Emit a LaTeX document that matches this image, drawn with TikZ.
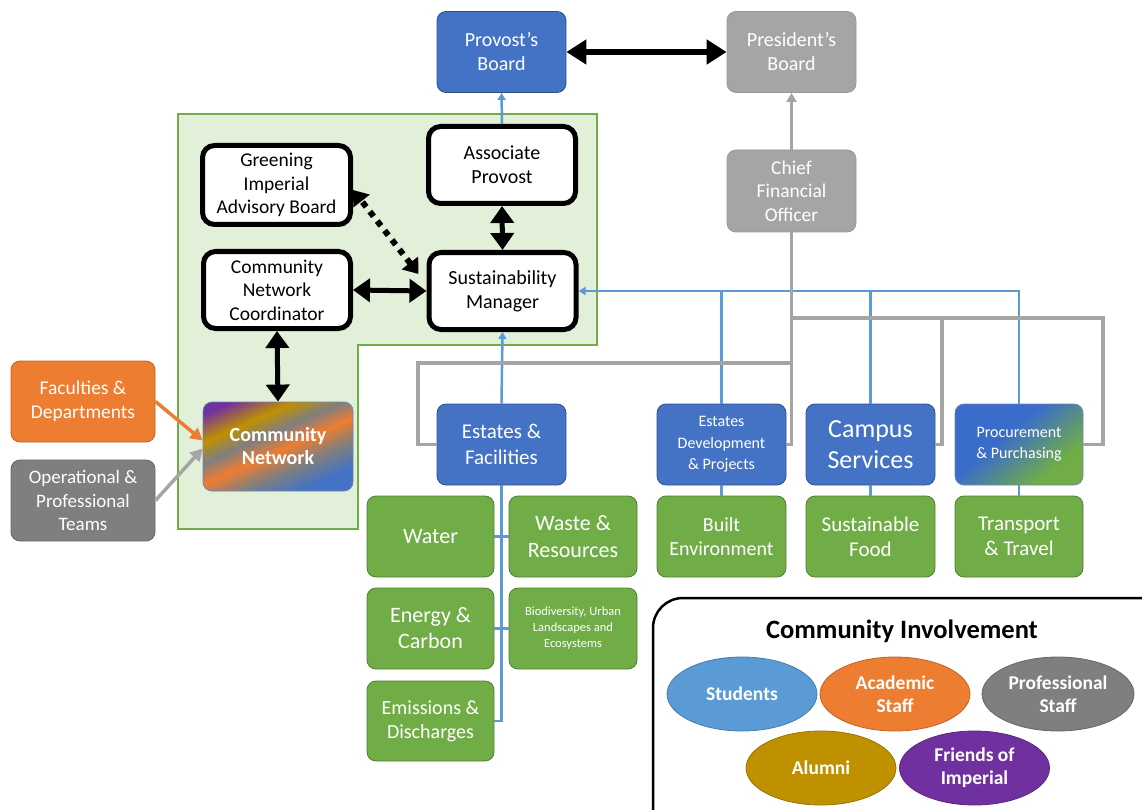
\documentclass[tikz,border=0pt]{standalone}
\usepackage{fontspec}
\setmainfont{Carlito}
\usetikzlibrary{arrows.meta,shapes.geometric}
\definecolor{cblue}{HTML}{4472C4}
\definecolor{cblueD}{HTML}{2F528F}
\definecolor{cgrayL}{HTML}{A5A5A5}
\definecolor{cgrayD}{HTML}{7F7F7F}
\definecolor{corange}{HTML}{ED7D31}
\definecolor{cgreen}{HTML}{70AD47}
\definecolor{cgreenD}{HTML}{507E32}
\definecolor{cline}{HTML}{5B9BD5}
\definecolor{cgold}{HTML}{BF9000}
\definecolor{cpurple}{HTML}{7030A0}
\definecolor{cregion}{HTML}{E2F0D9}
\definecolor{ppblue}{HTML}{3A6CCB}
\pgfdeclarehorizontalshading{cnshade}{100bp}{color(0bp)=(cpurple); color(22bp)=(cpurple); color(34bp)=(cgold); color(43bp)=(cgrayD); color(52bp)=(corange); color(62bp)=(cgrayD); color(73bp)=(cblue); color(100bp)=(cblue)}
\pgfdeclarehorizontalshading{ppshade}{100bp}{color(0bp)=(ppblue); color(42bp)=(ppblue); color(70bp)=(cgreen); color(100bp)=(cgreen)}
\tikzset{
 box/.style={rounded corners=9pt, align=center, text=white, inner sep=0pt, line width=0.8pt, minimum width=129pt, minimum height=81pt, font=\fontsize{20}{24}\selectfont},
 bluebox/.style={box, fill=cblue, draw=cblueD},
 graybox/.style={box, fill=cgrayL, draw=cgrayD!80},
 greenbox/.style={box, fill=cgreen, draw=cgreenD, minimum width=127pt},
 blackbox/.style={rounded corners=12pt, align=center, text=black, fill=white, draw=black, line width=5pt, minimum width=147pt, minimum height=77pt, inner sep=0pt, font=\fontsize{20}{24}\selectfont},
 bigarrow/.style={line width=5pt, {Triangle[length=17pt,width=23pt]}-{Triangle[length=17pt,width=23pt]}},
 blueline/.style={draw=cline, line width=2.5pt},
 bluearrow/.style={blueline, -{Triangle[length=7pt,width=8pt]}},
 grayline/.style={draw=cgrayL, line width=3.5pt},
 oval/.style={ellipse, minimum width=150pt, minimum height=74pt, inner sep=0pt, align=center, text=white, font=\bfseries\fontsize{19.5}{23}\selectfont, line width=0.8pt},
}
\begin{document}
\begin{tikzpicture}[x=1pt,y=-1pt]
\useasboundingbox (0,0) rectangle (1142,810);
\clip (0,0) rectangle (1142,810);
% green region
\fill[cregion, draw=cgreen, line width=1.2pt] (178,114) -- (597,114) -- (597,345) -- (358,345) -- (358,529) -- (178,529) -- cycle;

% top boards
\node[bluebox] (pb) at (501.5,52) {Provost’s\\Board};
\node[graybox] (prb) at (791.5,52) {President’s\\Board};
\node[graybox, font=\fontsize{19.5}{23.5}\selectfont, minimum height=82pt] (cfo) at (791.5,191) {Chief\\Financial\\Officer};

% black boxes
\node[blackbox] (ap) at (502,165) {Associate\\Provost};
\node[blackbox, minimum width=148pt, minimum height=79pt, font=\fontsize{19.5}{23.5}\selectfont] (gia) at (276.5,185) {Greening\\Imperial\\Advisory Board};
\node[blackbox, font=\fontsize{19.5}{23.5}\selectfont] (cnc) at (277,290) {Community\\Network\\Coordinator};
\node[blackbox] (sm) at (502.5,291) {Sustainability\\Manager};

% community network
\node[box, shading=cnshade, shading angle=-66, draw=cblueD!70, minimum width=150pt, minimum height=89pt, font=\bfseries\fontsize{20}{23}\selectfont] (cn) at (278,446.5) {Community\\Network};
\node[box, fill=corange, draw=corange!80!black, minimum width=144pt, font=\fontsize{19.5}{24}\selectfont] (fac) at (83,401.5) {Faculties \&\\Departments};
\node[box, fill=cgrayD, draw=cgrayD!80!black, minimum width=144pt, font=\fontsize{19}{23.5}\selectfont] (ops) at (83,500.5) {Operational \&\\Professional\\Teams};

% departments
\node[bluebox, font=\fontsize{21}{26}\selectfont] (ef) at (501.5,444.5) {Estates \&\\Facilities};
\node[bluebox, font=\fontsize{16}{21.5}\selectfont] (edp) at (721.5,444.5) {Estates\\Development\\\& Projects};
\node[bluebox, font=\fontsize{26}{31}\selectfont] (cs) at (870.5,444.5) {Campus\\Services};
\node[box, shading=ppshade, shading angle=-50, draw=cblueD!70, minimum width=128pt, font=\fontsize{16}{21}\selectfont] (pp) at (1019,444.5) {Procurement\\\& Purchasing};

% green boxes
\node[greenbox, font=\fontsize{22}{27}\selectfont] (water) at (430.5,536.5) {Water};
\node[greenbox, minimum width=128pt, font=\fontsize{22}{27}\selectfont] (waste) at (573,536.5) {Waste \&\\Resources};
\node[greenbox, font=\fontsize{22}{26}\selectfont] (energy) at (430.5,628.5) {Energy \&\\Carbon};
\node[greenbox, minimum width=128pt, font=\fontsize{12.5}{16}\selectfont] (bio) at (573,628.5) {Biodiversity, Urban\\Landscapes and\\Ecosystems};
\node[greenbox, minimum height=80pt, font=\fontsize{20}{24}\selectfont] (emis) at (430.5,721) {Emissions \&\\Discharges};
\node[greenbox, minimum width=129pt, font=\fontsize{20}{24}\selectfont] (built) at (721.5,536.5) {Built\\Environment};
\node[greenbox, minimum width=129pt, font=\fontsize{21}{25}\selectfont] (food) at (870.5,536.5) {Sustainable\\Food};
\node[greenbox, minimum width=128pt, font=\fontsize{21}{25}\selectfont] (tt) at (1019,536.5) {Transport\\\& Travel};

% community involvement
\node[draw=black, line width=2.5pt, rounded corners=30pt, minimum width=519pt, minimum height=242pt, inner sep=0pt] (ci) at (912.5,719) {};
\node[font=\bfseries\fontsize{26.5}{30}\selectfont, text=black] (cit) at (902,631) {Community Involvement};
\node[oval, fill=cline, draw=cline!80!black] (stu) at (742,694) {Students};
\node[oval, fill=corange, draw=corange!80!black] (aca) at (895,694) {Academic\\Staff};
\node[oval, fill=cgrayD, draw=cgrayD!80!black, minimum width=152pt] (pro) at (1058,694) {Professional\\Staff};
\node[oval, fill=cgold, draw=cgold!80!black] (alu) at (821,768) {Alumni};
\node[oval, fill=cpurple, draw=cpurple!80!black] (fri) at (974.5,768) {Friends of\\Imperial};

% coordinates for routing
\coordinate (g1) at (418,363);
\coordinate (g2) at (791.5,318);
\coordinate (g3) at (942,318);
\coordinate (g4) at (1103,318);

% blue connectors
\draw[bluearrow] (pp.north) |- (sm.east);
\draw[blueline] (edp.north) -- (edp.north |- sm.east);
\draw[blueline] (cs.north) -- (cs.north |- sm.east);
\draw[bluearrow] (ef.north) -- (sm.south);
\draw[bluearrow] (ap.north) -- (pb.south);
\draw[blueline] (ef.south) -- (ef.south |- emis.east) -- (emis.east);
\draw[blueline] (water.east) -- (waste.west);
\draw[blueline] (energy.east) -- (bio.west);
\draw[blueline] (edp.south) -- (built.north);
\draw[blueline] (cs.south) -- (food.north);
\draw[blueline] (pp.south) -- (tt.north);

% gray connectors
\draw[grayline] (cfo.south) |- (g1) |- (ef.west);
\draw[grayline] (cfo.south) |- (edp.east);
\draw[grayline] (g2) -- (g4) |- (pp.east);
\draw[grayline] (g3) |- (cs.east);
\draw[grayline, line width=3pt, -{Triangle[length=9pt,width=10pt]}] (cfo.north) -- (prb.south);

% black arrows
\draw[line width=6pt, {Triangle[length=20pt,width=24pt]}-{Triangle[length=20pt,width=24pt]}] (pb.east) -- (prb.west);
\draw[bigarrow] (ap.south) -- (sm.north);
\draw[bigarrow] (cnc.east) -- (sm.west);
\draw[bigarrow] (cnc.south) -- (cn.north);
\draw[line width=6pt, dash pattern=on 6pt off 6pt, {Triangle[length=14pt,width=20pt]}-{Triangle[length=14pt,width=20pt]}] ([xshift=-8pt,yshift=-24pt]sm.north west) -- ([yshift=-5pt]gia.east);

% into community network
\draw[draw=corange, line width=3.5pt, -{Triangle[length=12pt,width=13pt]}] (fac.east) -- ([yshift=6pt]cn.west);
\draw[draw=cgrayL, line width=3.5pt, -{Triangle[length=12pt,width=13pt]}] (ops.east) -- ([yshift=-2pt]cn.west);
\end{tikzpicture}
\end{document}
